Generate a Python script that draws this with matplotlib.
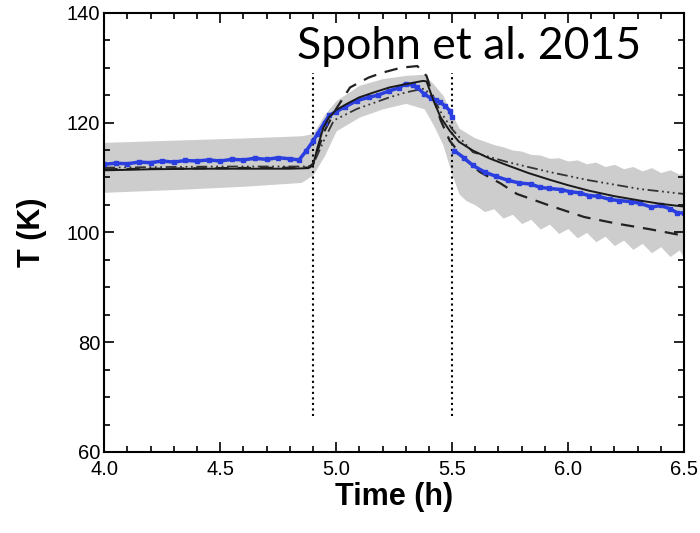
import numpy as np
import matplotlib
matplotlib.use('Agg')
import matplotlib.pyplot as plt

# model (solid), dashed and dash-dot curves
t_model = [4.0, 4.2, 4.4, 4.6, 4.8, 4.88, 4.9, 4.92, 4.945, 4.97, 5.0, 5.05, 5.1, 5.17, 5.23, 5.3,
           5.375, 5.39, 5.42, 5.45, 5.49, 5.53, 5.59, 5.66, 5.74, 5.83, 5.92, 6.0, 6.09, 6.2, 6.31, 6.4, 6.5]
T_model = [111.3, 111.5, 111.6, 111.6, 111.6, 111.7, 112.2, 115.5, 119.1, 121.0, 122.3, 123.5, 124.6, 125.6,
           126.4, 127.0, 127.6, 127.5, 124.0, 121.0, 118.5, 116.5, 114.9, 113.5, 112.2, 110.8, 109.6, 108.6,
           107.6, 106.6, 105.8, 105.2, 104.7]

t_dash = [4.0, 4.5, 4.88, 4.9, 4.95, 5.0, 5.06, 5.14, 5.2, 5.28, 5.35, 5.39, 5.42, 5.45, 5.49, 5.55,
          5.62, 5.71, 5.78, 5.92, 6.07, 6.21, 6.35, 6.5]
T_dash = [111.5, 111.7, 111.8, 112.5, 118.5, 122.5, 126.4, 128.2, 129.1, 130.0, 130.3, 128.5, 124.5,
          120.5, 116.7, 113.5, 111.0, 108.9, 107.0, 104.9, 102.8, 101.6, 100.6, 99.4]

t_dashdot = [4.0, 4.5, 4.88, 4.9, 4.95, 4.99, 5.09, 5.23, 5.3, 5.38, 5.42, 5.45, 5.5, 5.59, 5.74,
             5.92, 6.09, 6.31, 6.5]
T_dashdot = [111.8, 112.0, 112.0, 112.3, 117.0, 120.4, 122.5, 124.6, 125.5, 126.2, 124.5, 122.0,
             118.8, 114.6, 112.8, 111.0, 109.5, 107.9, 107.0]

# measured temperatures (blue), before and after the drop at 5.5 h
t_obs1 = [4.00, 4.05, 4.10, 4.15, 4.20, 4.25, 4.30, 4.35, 4.40, 4.45, 4.50, 4.55, 4.60, 4.65, 4.70,
          4.75, 4.80, 4.84, 4.87, 4.90, 4.92, 4.95, 4.97, 5.00, 5.04, 5.09, 5.14, 5.18, 5.23, 5.27,
          5.30, 5.33, 5.35, 5.38, 5.41, 5.43, 5.45, 5.47, 5.49, 5.50]
T_obs1 = [112.4, 112.6, 112.5, 112.8, 112.7, 113.0, 112.8, 113.1, 113.0, 113.2, 113.0, 113.3, 113.2,
          113.5, 113.3, 113.6, 113.4, 113.2, 114.8, 116.6, 118.0, 120.0, 121.3, 122.0, 122.9, 124.0,
          124.6, 125.0, 125.8, 126.3, 127.1, 126.8, 126.4, 125.2, 124.4, 124.1, 123.7, 123.0, 122.2, 121.0]
t_obs2 = [5.51, 5.55, 5.59, 5.64, 5.69, 5.74, 5.79, 5.84, 5.88, 5.92, 5.97, 6.01, 6.05, 6.09, 6.13,
          6.18, 6.22, 6.27, 6.31, 6.36, 6.40, 6.44, 6.47, 6.50]
T_obs2 = [114.9, 113.6, 112.2, 111.0, 110.2, 109.5, 109.0, 108.8, 108.2, 108.0, 107.8, 107.4, 107.2,
          106.7, 106.6, 106.0, 105.8, 105.6, 105.3, 104.6, 104.9, 104.3, 103.6, 103.5]

# uncertainty envelope (grey)
t_band = [4.0, 4.3, 4.6, 4.85, 4.9, 4.95, 5.0, 5.1, 5.2, 5.3, 5.38, 5.42, 5.46, 5.5, 5.53, 5.56, 5.6,
          5.64, 5.68, 5.72, 5.76, 5.8, 5.84, 5.88, 5.92, 5.96, 6.0, 6.04, 6.08, 6.12, 6.16, 6.2, 6.24,
          6.28, 6.32, 6.36, 6.4, 6.44, 6.48, 6.5]
T_band_lo = [107.3, 107.8, 108.4, 109.1, 110.5, 114.0, 118.5, 121.0, 122.5, 123.5, 122.5, 119.5, 116.0,
             110.5, 107.0, 105.8, 105.0, 103.8, 104.3, 102.6, 103.3, 101.6, 102.4, 100.6, 101.5, 99.8,
             100.7, 99.0, 100.0, 98.3, 99.3, 97.6, 98.6, 96.9, 98.0, 96.3, 97.4, 95.6, 96.8, 95.4]
T_band_hi = [116.4, 116.8, 117.2, 117.6, 118.0, 121.5, 124.0, 126.8, 128.0, 128.6, 128.8, 127.0, 125.0,
             121.5, 119.0, 118.2, 117.2, 116.6, 116.0, 115.6, 115.0, 114.8, 114.2, 114.1, 113.5, 113.6,
             113.0, 113.2, 112.5, 112.8, 112.0, 112.4, 111.6, 112.0, 111.2, 111.8, 110.9, 111.4, 110.6, 111.0]

events = [4.9, 5.5]
xticks = [4.0, 4.5, 5.0, 5.5, 6.0, 6.5]
yticks = [60, 80, 100, 120, 140]

plt.rcParams['font.family'] = ['Liberation Sans', 'DejaVu Sans']

fig = plt.figure(figsize=(7, 5.33), dpi=100)
ax = fig.add_axes([0.149, 0.152, 0.828, 0.824])

ax.fill_between(t_band, T_band_lo, T_band_hi, color='#cdcdcd', lw=0)
for x in events:
    ax.vlines(x, 66.5, 129, colors='black', linestyles=':', lw=1.5)
ax.plot(t_dash, T_dash, color='#222222', lw=1.6, dashes=(6, 4))
ax.plot(t_dashdot, T_dashdot, color='#333333', lw=1.3, dashes=(6, 2, 1, 2, 1, 2, 1, 2))
ax.plot(t_obs1, T_obs1, color='#2b3fe0', lw=2.5, marker='s', ms=2.5)
ax.plot(t_obs2, T_obs2, color='#2b3fe0', lw=2.5, marker='s', ms=2.5)
ax.plot(t_model, T_model, color='#1a1a1a', lw=1.4)

ax.set_xlim(4.0, 6.5)
ax.set_ylim(60, 140)
ax.set_xticks(xticks)
ax.set_xticklabels(['%.1f' % v for v in xticks])
ax.set_yticks(yticks)
ax.set_xticks(np.arange(4.0, 6.51, 0.1), minor=True)
ax.set_yticks(np.arange(60, 141, 5), minor=True)
ax.tick_params(which='both', direction='in', top=True, right=True, labelsize=14.5, width=1.2)
ax.tick_params(which='major', length=7)
ax.tick_params(which='minor', length=4)
ax.tick_params(axis='x', pad=6)
ax.tick_params(axis='y', pad=3)
for s in ax.spines.values():
    s.set_linewidth(1.5)

ax.set_xlabel('Time (h)', fontsize=22, fontweight='bold', labelpad=2)
ax.set_ylabel('T (K)', fontsize=22, fontweight='bold', labelpad=14)

ax.text(4.83, 131.6, 'Spohn et al. 2015', family=['Lato', 'DejaVu Sans'], fontsize=32,
        ha='left', va='baseline')

fig.savefig('out.png', dpi=100)
